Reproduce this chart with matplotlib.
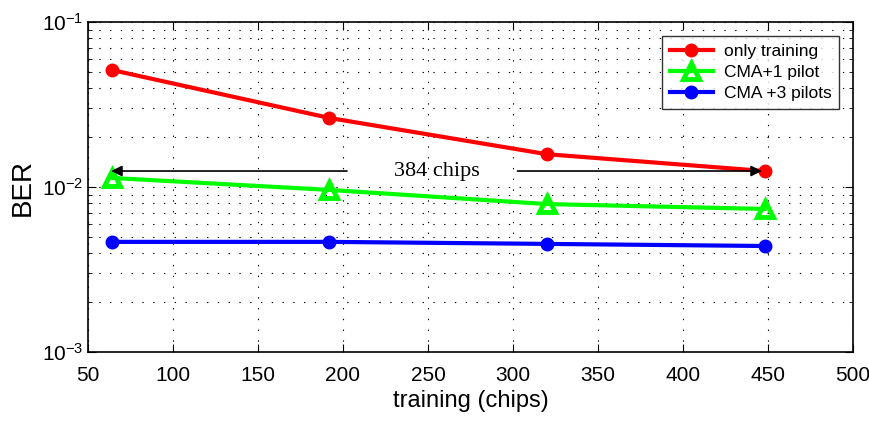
import numpy as np
import matplotlib.pyplot as plt
from matplotlib.ticker import LogLocator, NullFormatter

plt.rcParams['font.family'] = ['Liberation Sans', 'DejaVu Sans']

# data
chips = [64, 192, 320, 448]
ber_training = [0.0512, 0.0262, 0.0158, 0.0125]
ber_cma1 = [0.01135, 0.0096, 0.00788, 0.00736]
ber_cma3 = [0.00465, 0.00465, 0.00452, 0.00439]

fig = plt.figure(figsize=(8.7, 4.25), dpi=100)
ax = fig.add_axes([88/870, 1-352/425, (853-88)/870, (352-22)/425])

ax.plot(chips, ber_training, '-o', color='red', lw=3, ms=9, label='only training')
ax.plot(chips, ber_cma1, '-^', color='#00ff00', lw=3, ms=11, mfc='none', mew=3.5, label='CMA+1 pilot')
ax.plot(chips, ber_cma3, '-o', color='blue', lw=3, ms=9, label='CMA +3 pilots')

ax.set_yscale('log')
ax.set_xlim(50, 500)
ax.set_ylim(1e-3, 1e-1)
ax.set_xticks(np.arange(50, 501, 50))
ax.yaxis.set_minor_locator(LogLocator(base=10, subs=np.arange(2, 10)))
ax.yaxis.set_minor_formatter(NullFormatter())
ax.tick_params(which='both', direction='in', top=True, right=True, labelsize=15)
ax.tick_params(axis='x', pad=10)
ax.tick_params(which='major', length=6)
ax.tick_params(which='minor', length=3)
dots = (0, (1.2, 8.5))
ax.grid(True, which='major', axis='x', ls=dots, color='black', lw=0.8)
ax.grid(True, which='both', axis='y', ls=dots, color='black', lw=0.8)
for s in ax.spines.values():
    s.set_linewidth(1.2)

ax.set_xlabel('training (chips)', fontsize=17, labelpad=4)
ax.set_ylabel('BER', fontsize=20, labelpad=4)

# 384 chips annotation
y_arr = 0.0125
ax.annotate('', xy=(62, y_arr), xytext=(204, y_arr),
            arrowprops=dict(arrowstyle='-|>', color='black', lw=1.2, mutation_scale=16))
ax.annotate('', xy=(448, y_arr), xytext=(301, y_arr),
            arrowprops=dict(arrowstyle='-|>', color='black', lw=1.2, mutation_scale=16))
ax.text(255, y_arr, '384 chips', family='Liberation Serif', fontsize=16,
        ha='center', va='center')

leg = ax.legend(loc='upper right', fontsize=12.5, frameon=True, fancybox=False,
                edgecolor='black', handlelength=2.5, borderaxespad=0.8,
                labelspacing=0.35, handletextpad=0.6, borderpad=0.45)
leg.get_frame().set_linewidth(1.0)

fig.savefig('out.png', dpi=100)
